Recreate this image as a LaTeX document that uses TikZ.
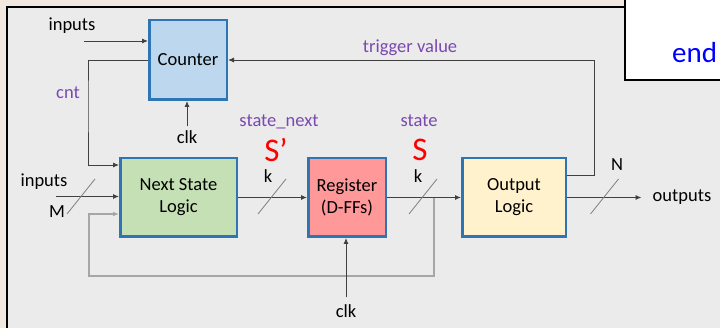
\documentclass[tikz,border=0pt]{standalone}
\usepackage{fontspec}
\setmainfont{Carlito}
\usetikzlibrary{calc}
\usetikzlibrary{positioning}
\usetikzlibrary{arrows.meta}
\definecolor{boxblue}{HTML}{2E75B6}
\definecolor{ctrfill}{HTML}{BDD7EE}
\definecolor{nslfill}{HTML}{C5E0B4}
\definecolor{regfill}{HTML}{FF9999}
\definecolor{outfill}{HTML}{FFF2CC}
\definecolor{sigpurple}{HTML}{7A48B0}
\definecolor{panelgrey}{HTML}{EBEBEB}
\definecolor{slidebg}{HTML}{F1E8DF}
\tikzstyle{blockbox} = [draw=boxblue, line width=2.5pt, align=center, font=\fontsize{18.5}{22}\selectfont]
\tikzstyle{colorCtr} = [fill=ctrfill]
\tikzstyle{colorNsl} = [fill=nslfill]
\tikzstyle{colorReg} = [fill=regfill]
\tikzstyle{colorOut} = [fill=outfill]
\tikzstyle{sig} = [draw=black!75, line width=0.9pt, -{Latex[length=6pt,width=5pt]}]
\tikzstyle{loopline} = [draw=black!35, line width=1.6pt]
\tikzstyle{busmark} = [draw=black!50, line width=0.8pt]
\tikzstyle{lbl} = [font=\fontsize{18.5}{22}\selectfont, inner sep=1pt]
\tikzstyle{signame} = [lbl, text=sigpurple]
\tikzstyle{stsym} = [text=red, font=\fontsize{33}{36}\selectfont, inner sep=0pt]

\begin{document}
\begin{tikzpicture}[x=1pt, y=-1pt]
  \useasboundingbox (0,0) rectangle (720,328);
  % slide background and frame
  \fill[slidebg] (0,0) rectangle (720,328);
  \fill[panelgrey] (7,7) rectangle (720,328);
  \draw[line width=2pt] (7,330) -- (7,7) -- (625,7);
  \filldraw[fill=white, draw=black, line width=2pt] (625,-3) rectangle (723,80);
  \node[anchor=west, text=blue, font=\fontsize{29}{32}\selectfont, inner sep=0pt] (endkw) at (672,53) {end};

  % blocks
  \node[blockbox, colorNsl, minimum width=116.5pt, minimum height=78.5pt] (nsl) at (178.5,197.5) {Next State\\Logic};
  \node[blockbox, colorReg, minimum width=77.5pt, minimum height=78.5pt, right=69pt of nsl] (reg) {Register\\(D-FFs)};
  \node[blockbox, colorOut, minimum width=103.5pt, minimum height=78.5pt, right=74pt of reg] (out) {Output\\Logic};
  \node[blockbox, colorCtr, minimum width=77.5pt, minimum height=79.5pt] (ctr) at (188,60) {Counter};

  % labels
  \node[lbl] (inCtr) at (72,26) {inputs};
  \node[lbl] (inNsl) at (44,182) {inputs};
  \node[lbl] (mw) at (57,212) {M};
  \node[lbl] (kA) at (268,176) {k};
  \node[lbl] (kB) at (418,176) {k};
  \node[lbl] (nw) at (617,165) {N};
  \node[lbl] (outs) at (682,197.5) {outputs};
  \node[lbl] (clkA) at (187,137) {clk};
  \node[lbl] (clkB) at (346,311) {clk};
  \node[signame] (cnt) at (68,93) {cnt};
  \node[signame] (trig) at (410,48) {trigger value};
  \node[signame] (stn) at (279,122) {state\_next};
  \node[signame] (st) at (419,121) {state};
  \node[stsym] (sPrime) at (276,150) {S’};
  \node[stsym] (sCur) at (420,150) {S};

  % corner points
  \coordinate (cin) at (84,41);
  \coordinate (min) at (56,196.5);
  \coordinate (cntc) at (88,100);
  \coordinate (trg) at (594,175);
  \coordinate (stb) at (434,197.5);
  \coordinate (fbb) at (89,276);
  \coordinate (mbus) at (81,196.5);
  \coordinate (kbusA) at (272,196.5);
  \coordinate (kbusB) at (423,196.5);
  \coordinate (nbus) at (604.5,196.5);

  \draw[loopline, -{Latex[length=6pt,width=5pt]}] (stb) |- (fbb) |- ($(nsl.south west)+(0,-24)$);
  \draw[sig] (cin) -- (cin -| ctr.west);
  \draw[sig] (ctr.west) -| (cntc) |- ($(nsl.north west)+(0,8)$);
  \draw[sig] (min) -- (min -| nsl.west);
  \draw[sig] (nsl) -- (reg);
  \draw[sig] (reg) -- (out);
  \draw[sig, shorten >=10pt] (out) -- (outs);
  \draw[sig] (out.east |- trg) -- (trg) |- (ctr.east);
  \draw[sig, shorten <=3pt] (clkA.north) -- (clkA.north |- ctr.south);
  \draw[sig, shorten <=6pt] (clkB.north) -- (clkB.north |- reg.south);

  \draw[busmark] ($(mbus)+(-14,17.5)$) -- ($(mbus)+(14,-17.5)$);
  \draw[busmark] ($(kbusA)+(-14,17.5)$) -- ($(kbusA)+(14,-17.5)$);
  \draw[busmark] ($(kbusB)+(-14,17.5)$) -- ($(kbusB)+(14,-17.5)$);
  \draw[busmark] ($(nbus)+(-14,17.5)$) -- ($(nbus)+(14,-17.5)$);
\end{tikzpicture}
\end{document}
